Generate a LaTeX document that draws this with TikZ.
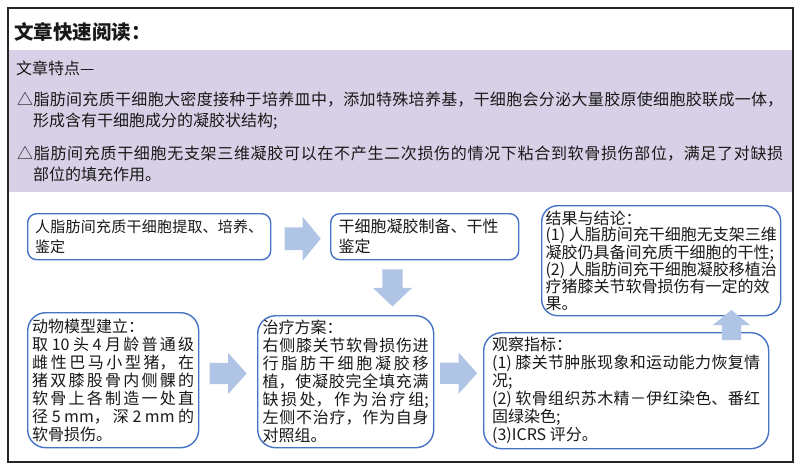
\documentclass[tikz,border=0pt]{standalone}
\usepackage{fontspec}
\setmainfont{Noto Sans CJK SC}
\XeTeXlinebreaklocale "zh"
\XeTeXlinebreakskip=0pt plus 1fil
\usetikzlibrary{calc}
\definecolor{boxblue}{RGB}{68,114,196}
\definecolor{arrowblue}{RGB}{176,196,230}
\definecolor{bandcol}{RGB}{216,208,230}
\definecolor{ink}{RGB}{25,25,25}
\newcommand\jfy{\parfillskip=0pt plus 1fill\relax}
\newcommand\eol{\hspace*{\fill}}
\newcommand\blockarrow[4]{%
  \begin{scope}[shift={#1}, rotate=#2]
    \fill[arrowblue] (-#3/2,-#4*0.26) -- (0,-#4*0.26) -- (0,-#4/2) -- (#3/2,0)
      -- (0,#4/2) -- (0,#4*0.26) -- (-#3/2,#4*0.26) -- cycle;
  \end{scope}}
\tikzset{
  box/.style={draw=boxblue, line width=1.4pt, fill=white, anchor=north west,
    align=justify, inner ysep=0pt},
  plain/.style={anchor=west, inner sep=0pt},
}
\begin{document}
\begin{tikzpicture}[x=1pt, y=-1pt, text=ink]
\useasboundingbox (0,0) rectangle (800,472);
\fill[white] (0,0) rectangle (800,472);
\fill[bandcol] (8,50) rectangle (793,192);
\draw[line width=1.4pt, black!85] (8,8) rectangle (793,462);

\node[plain, font=\bfseries\fontsize{19.5}{22}\selectfont] (title) at (14,32) {文章快速阅读：};
\node[plain, font=\fontsize{16}{18}\selectfont] (feat) at (16,68) {文章特点—};
\node[plain, text width=766pt, align=justify, font=\fontsize{16}{21}\selectfont] (p1) at (17,110.5)
  {\jfy △脂肪间充质干细胞大密度接种于培养皿中，添加特殊培养基，干细胞会分泌大量胶原使细胞胶联成一体，\break\hspace*{16pt}形成含有干细胞成分的凝胶状结构;\eol};
\node[plain, text width=766pt, align=justify, font=\fontsize{16}{21}\selectfont] (p2) at (17,164)
  {\jfy △脂肪间充质干细胞无支架三维凝胶可以在不产生二次损伤的情况下粘合到软骨损伤部位，满足了对缺损\break\hspace*{16pt}部位的填充作用。\eol};

\node[box, rounded corners=9pt, text width=228pt, inner xsep=7.5pt, minimum height=46pt,
  font=\fontsize{15}{20}\selectfont] (A) at (27,213)
  {\jfy 人脂肪间充质干细胞提取、培养、\break 鉴定\eol};
\node[box, rounded corners=9pt, text width=172pt, inner xsep=8pt, minimum height=46pt,
  font=\fontsize{16}{20}\selectfont] (B) at (330,213)
  {\jfy 干细胞凝胶制备、干性\eol\break 鉴定\eol};
\node[box, rounded corners=16pt, align=left, inner xsep=1.5pt, minimum width=239pt, minimum height=110pt,
  font=\fontsize{16}{16.6}\selectfont] (C) at (541,205)
  {结果与结论：\\
   (1) 人脂肪间充干细胞无支架三维\\
   凝胶仍具备间充质干细胞的干性;\\
   (2) 人脂肪间充干细胞凝胶移植治\\
   疗猪膝关节软骨损伤有一定的效\\
   果。};
\node[box, rounded corners=18pt, text width=162pt, inner xsep=4.5pt, minimum height=135pt,
  font=\fontsize{16}{18}\selectfont] (D) at (27,312)
  {\jfy 动物模型建立：\eol\break 取 10 头 4 月龄普通级\break 雌性巴马小型猪，在\break 猪双膝股骨内侧髁的\break 软骨上各制造一处直\break 径 5 mm，深 2 mm 的\break 软骨损伤。\eol};
\node[box, rounded corners=18pt, text width=166pt, inner xsep=5pt, minimum height=132pt,
  font=\fontsize{16}{18}\selectfont] (E) at (257,315)
  {\jfy 治疗方案：\eol\break 右侧膝关节软骨损伤进\break 行脂肪干细胞凝胶移\break 植，使凝胶完全填充满\break 缺损处，作为治疗组;\break 左侧不治疗，作为自身\break 对照组。\eol};
\node[box, rounded corners=18pt, text width=268pt, inner xsep=8.5pt, minimum height=116pt,
  font=\fontsize{16}{18}\selectfont] (F) at (483,332)
  {\jfy 观察指标：\eol\break (1) 膝关节肿胀现象和运动能力恢复情\break 况;\eol\break (2) 软骨组织苏木精－伊红染色、番红\break 固绿染色;\eol\break (3)ICRS 评分。\eol};

\blockarrow{($(A.east)!0.5!(B.west)+(2,2)$)}{0}{36}{44}
\blockarrow{($(B.south west)+(62.5,27.5)$)}{-90}{37}{39}
\blockarrow{($(D.east)!0.5!(E.west)+(0,-7.5)$)}{0}{37}{41}
\blockarrow{($(E.east)!0.5!(F.west)+(0,-13)$)}{0}{37}{41}
\blockarrow{($(F.north east)+(-38,-7)$)}{90}{30}{37}
\end{tikzpicture}
\end{document}
